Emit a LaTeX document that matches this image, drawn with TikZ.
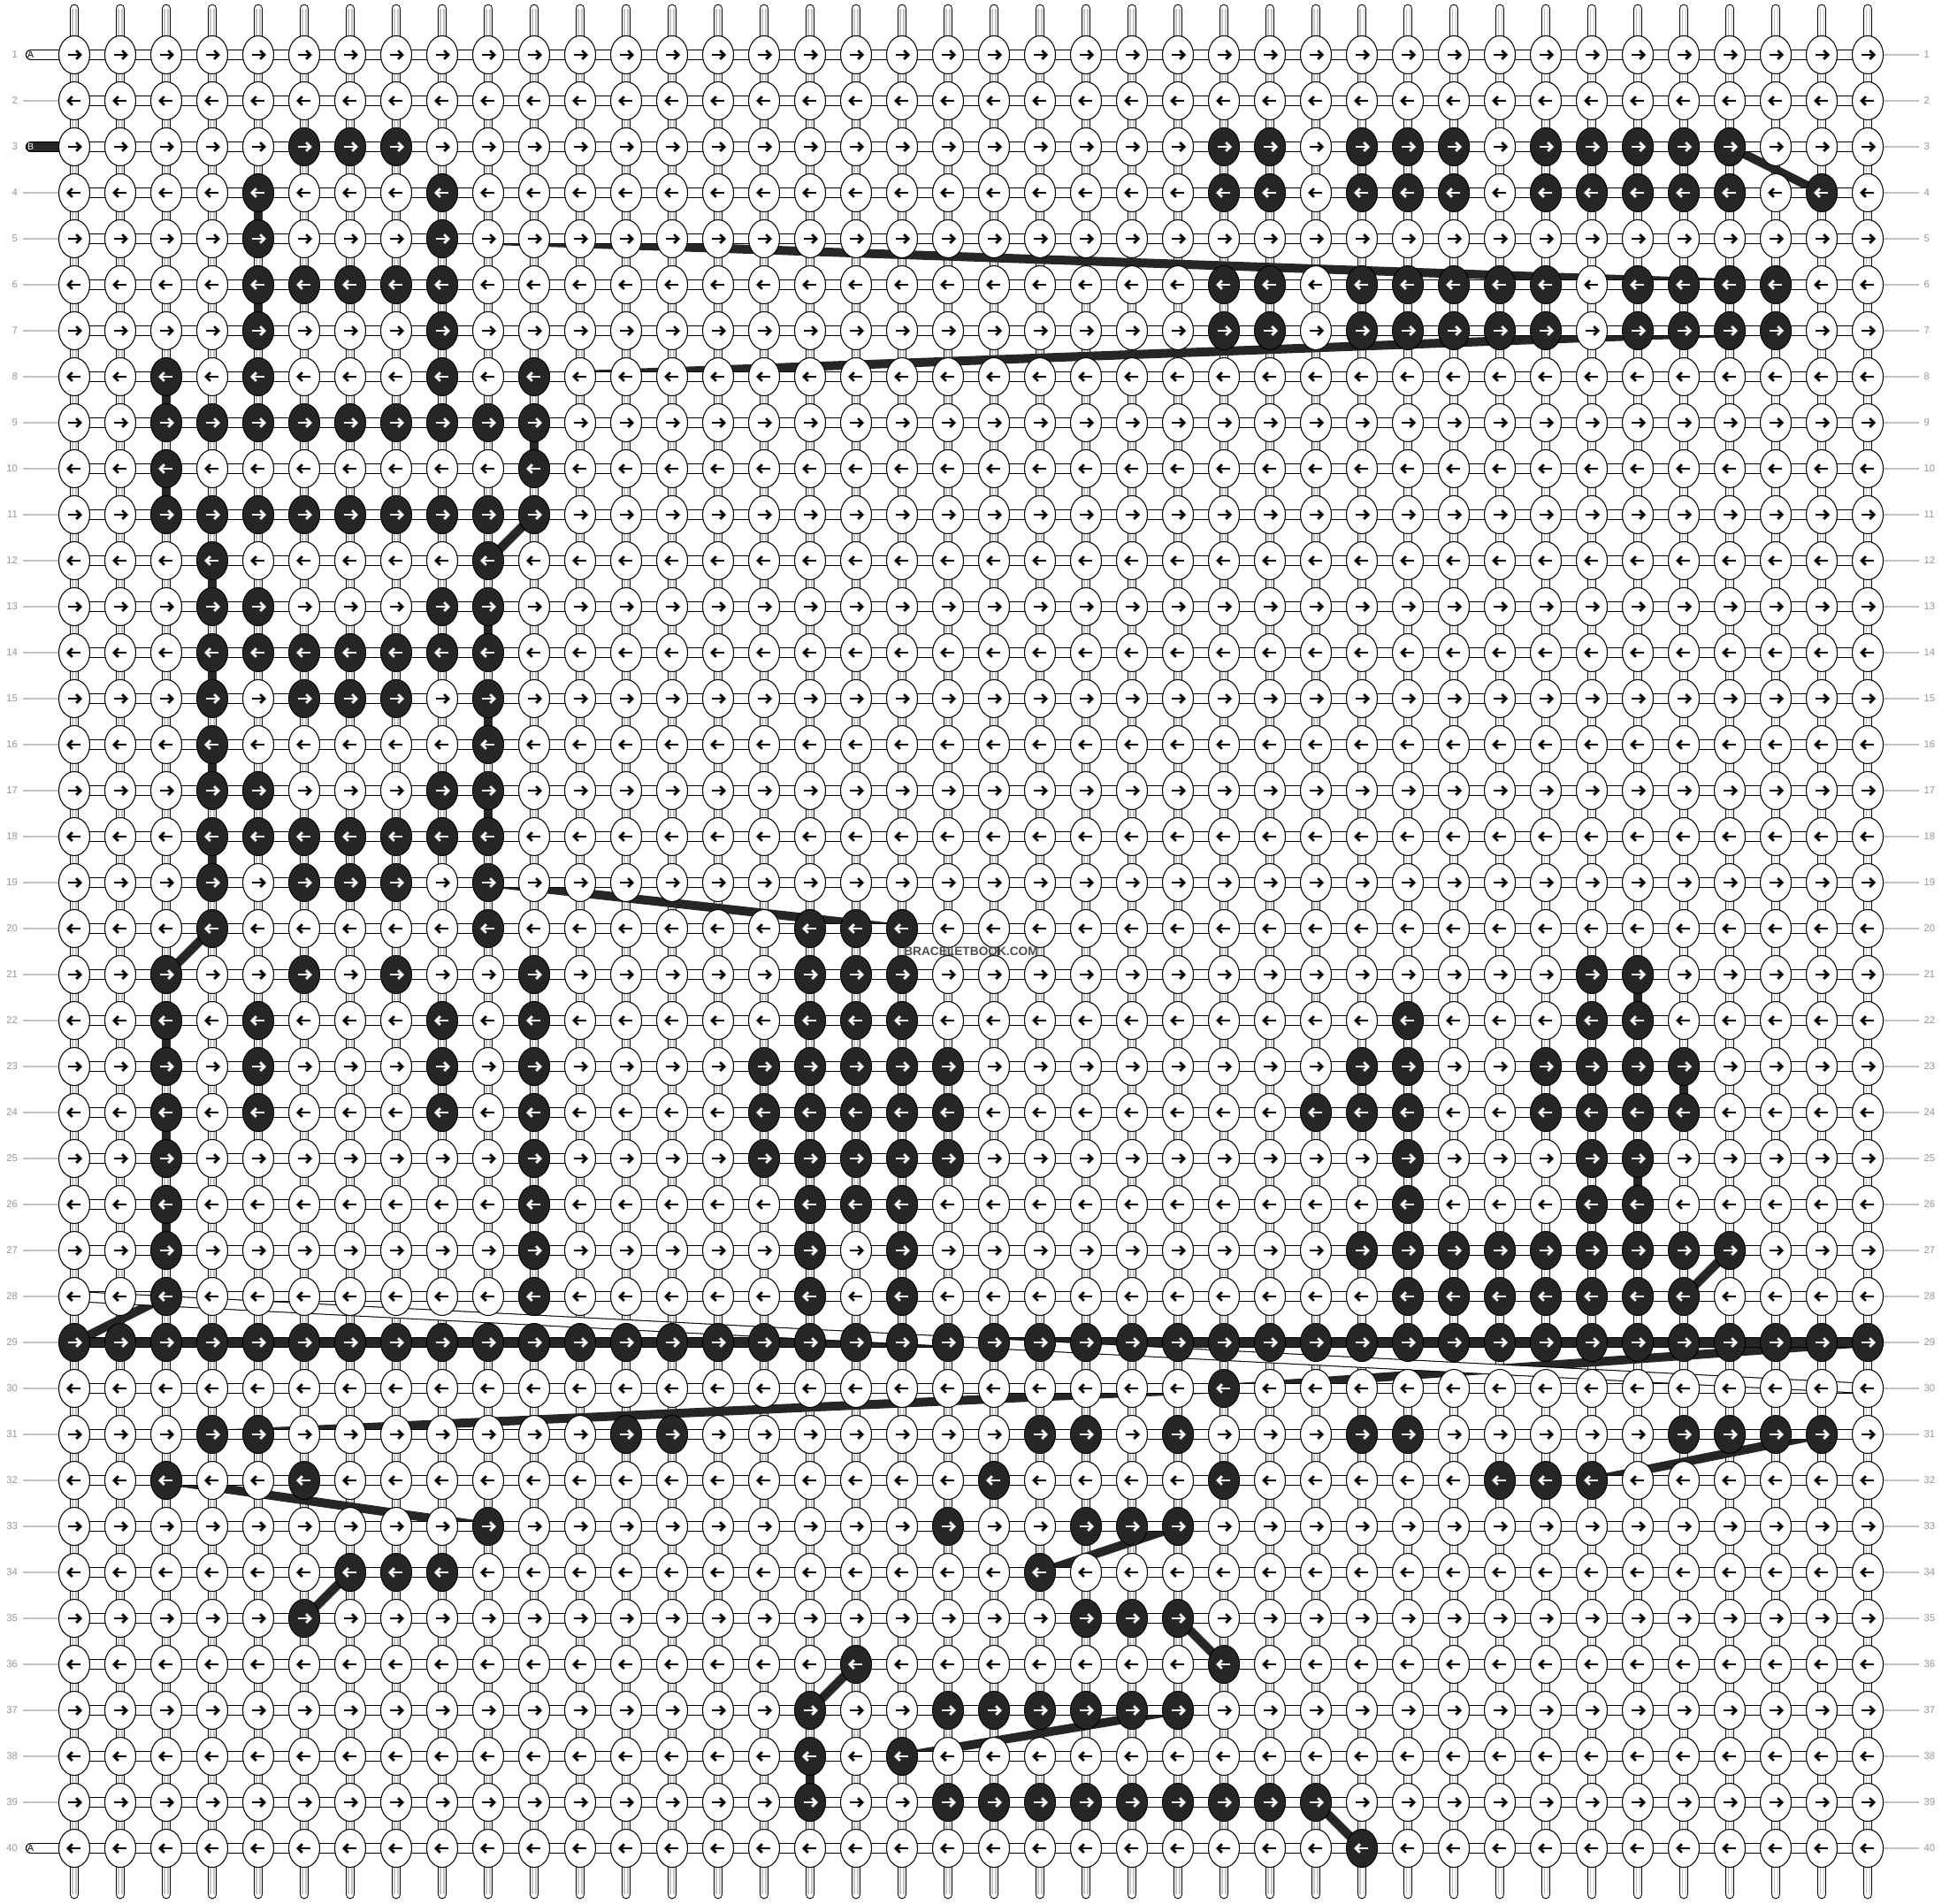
\documentclass[tikz,border=0pt]{standalone}
\usepackage{fontspec}
\setmainfont{Liberation Sans}
\usetikzlibrary{shapes.geometric}

\definecolor{knotdark}{RGB}{38,38,38}
\definecolor{rowgrey}{RGB}{150,150,150}
\definecolor{tickgrey}{RGB}{195,195,195}

\tikzset{
  knot/.style={ellipse, draw, line width=0.3pt, fill=white, minimum width=0.35cm, minimum height=0.43cm, inner sep=0pt},
  darkknot/.style={knot, fill=knotdark},
  vtube/.style={line width=0.3pt, double=white, double distance=2.44pt, line cap=round},
  htube/.style={line width=0.3pt, double=white, double distance=2.9pt, line cap=round},
  btube/.style={htube, double=knotdark},
  bjump/.style={knotdark, line width=2.85pt, line cap=round},
  rowlabel/.style={text=rowgrey, inner sep=0pt, font=\fontsize{3.2}{3.5}\selectfont},
  tabletter/.style={inner sep=0pt, font=\fontsize{3}{3.2}\selectfont},
  pics/knotarrow/.style={code={
    \draw[line width=0.8pt] (-0.07cm,0) -- (0.06cm,0);
    \draw[line width=0.8pt] (0.022cm,0.048cm) -- (0.07cm,0) -- (0.022cm,-0.048cm);
  }}
}

\def\darkknots{3/{6,7,8,26,27,29,30,31,33,34,35,36,37},
  4/{5,9,26,27,29,30,31,33,34,35,36,37,39},
  5/{5,9},
  6/{5,6,7,8,9,26,27,29,30,31,32,33,35,36,37,38},
  7/{5,9,26,27,29,30,31,32,33,35,36,37,38},
  8/{3,5,9,11},
  9/{3,...,11},
  10/{3,11},
  11/{3,...,11},
  12/{4,10},
  13/{4,5,9,10},
  14/{4,...,10},
  15/{4,6,7,8,10},
  16/{4,10},
  17/{4,5,9,10},
  18/{4,...,10},
  19/{4,6,7,8,10},
  20/{4,10,17,18,19},
  21/{3,6,8,11,17,18,19,34,35},
  22/{3,5,9,11,17,18,19,30,34,35},
  23/{3,5,9,11,16,17,18,19,20,29,30,33,34,35,36},
  24/{3,5,9,11,16,17,18,19,20,28,29,30,33,34,35,36},
  25/{3,11,16,17,18,19,20,30,34,35},
  26/{3,11,17,18,19,30,34,35},
  27/{3,11,17,19,29,30,31,32,33,34,35,36,37},
  28/{3,11,17,19,30,31,32,33,34,35,36},
  29/{1,...,40},
  30/{26},
  31/{4,5,13,14,22,23,25,29,30,36,37,38,39},
  32/{3,6,21,26,32,33,34},
  33/{10,20,23,24,25},
  34/{7,8,9,22},
  35/{6,23,24,25},
  36/{18,26},
  37/{17,20,21,22,23,24,25},
  38/{17,19},
  39/{17,20,21,22,23,24,25,26,27,28},
  40/{29}}

\begin{document}
\begin{tikzpicture}[x=0.52cm, y=-0.52cm]
\useasboundingbox[fill=white] (-0.6154,-0.1923) rectangle (41.6154,41.1923);

\foreach \r/\cs in \darkknots
  \foreach \c in \cs
    \expandafter\gdef\csname dk-\r-\c\endcsname{};

\foreach \r in {1,...,40}
  \foreach \c in {1,...,40}
    \coordinate (p-\r-\c) at (\c,\r);

% base strings
\foreach \c in {1,...,40} {
  \draw[vtube] (\c,0) -- (\c,41);
  \draw[tickgrey, line width=0.3pt] ([xshift=-0.02cm]\c,0) -- ([xshift=-0.02cm]\c,41)
    ([xshift=0.02cm]\c,0) -- ([xshift=0.02cm]\c,41);
}

% string B from row to row
\foreach \ra/\ca/\rb/\cb in {3/37/4/39, 4/5/5/5, 5/9/6/38, 6/5/7/5, 7/38/8/11,
    8/3/9/3, 9/11/10/11, 10/3/11/3, 11/11/12/10, 12/4/13/4, 13/10/14/10,
    14/4/15/4, 15/10/16/10, 16/4/17/4, 17/10/18/10, 18/4/19/4, 19/10/20/19,
    20/4/21/3, 21/35/22/35, 22/3/23/3, 23/36/24/36, 24/3/25/3, 25/35/26/35,
    26/3/27/3, 27/37/28/36, 28/3/29/1, 29/40/30/26, 30/26/31/4, 31/39/32/34,
    32/3/33/10, 33/25/34/22, 34/7/35/6, 35/25/36/26, 36/18/37/17, 37/25/38/19,
    38/17/39/17, 39/28/40/29}
  \draw[bjump] (p-\ra-\ca) -- (p-\rb-\cb);

% knotting rows
\foreach \r in {1,...,28,30,31,...,40}
  \draw[htube] (p-\r-1) -- (p-\r-40);
\draw[btube] (p-29-1) -- (p-29-40);
\draw[htube] (p-28-1) -- (p-30-40);

\draw[htube] (0.058,1) -- (p-1-1);
\draw[btube] (0.058,3) -- (p-3-1);
\draw[htube] (0.058,40) -- (p-40-1);
\node[tabletter] (tab-a) at (0.05,1) {A};
\node[tabletter, text=white] (tab-b) at (0.05,3) {B};
\node[tabletter] (tab-a2) at (0.05,40) {A};

% row numbers
\foreach \r in {1,...,40} {
  \node[rowlabel, anchor=east] (left-\r) at (-0.221,\r) {\r};
  \node[rowlabel, anchor=west] (right-\r) at (41.21,\r) {\r};
  \draw[tickgrey, line width=0.35pt] (p-\r-40) -- ([xshift=-0.05cm]right-\r.west);
}
\foreach \r in {2,4,5,...,39}
  \draw[tickgrey, line width=0.35pt] ([xshift=0.055cm]left-\r.east) -- (p-\r-1);

% knots
\foreach \r in {1,...,40}
  \foreach \c in {1,...,40} {
    \ifcsname dk-\r-\c\endcsname \def\kstyle{darkknot}\def\acol{white}\else \def\kstyle{knot}\def\acol{black}\fi
    \ifodd\r\relax \def\aang{0}\else \def\aang{180}\fi
    \node[\kstyle] (k-\r-\c) at (p-\r-\c) {};
    \pic[color=\acol, rotate=\aang] at (k-\r-\c) {knotarrow};
  }

\node[font=\bfseries\fontsize{3.9}{4}\selectfont, text=black!70, inner sep=0pt] (mark) at (20.5,20.5) {BRACELETBOOK.COM};
\end{tikzpicture}
\end{document}
